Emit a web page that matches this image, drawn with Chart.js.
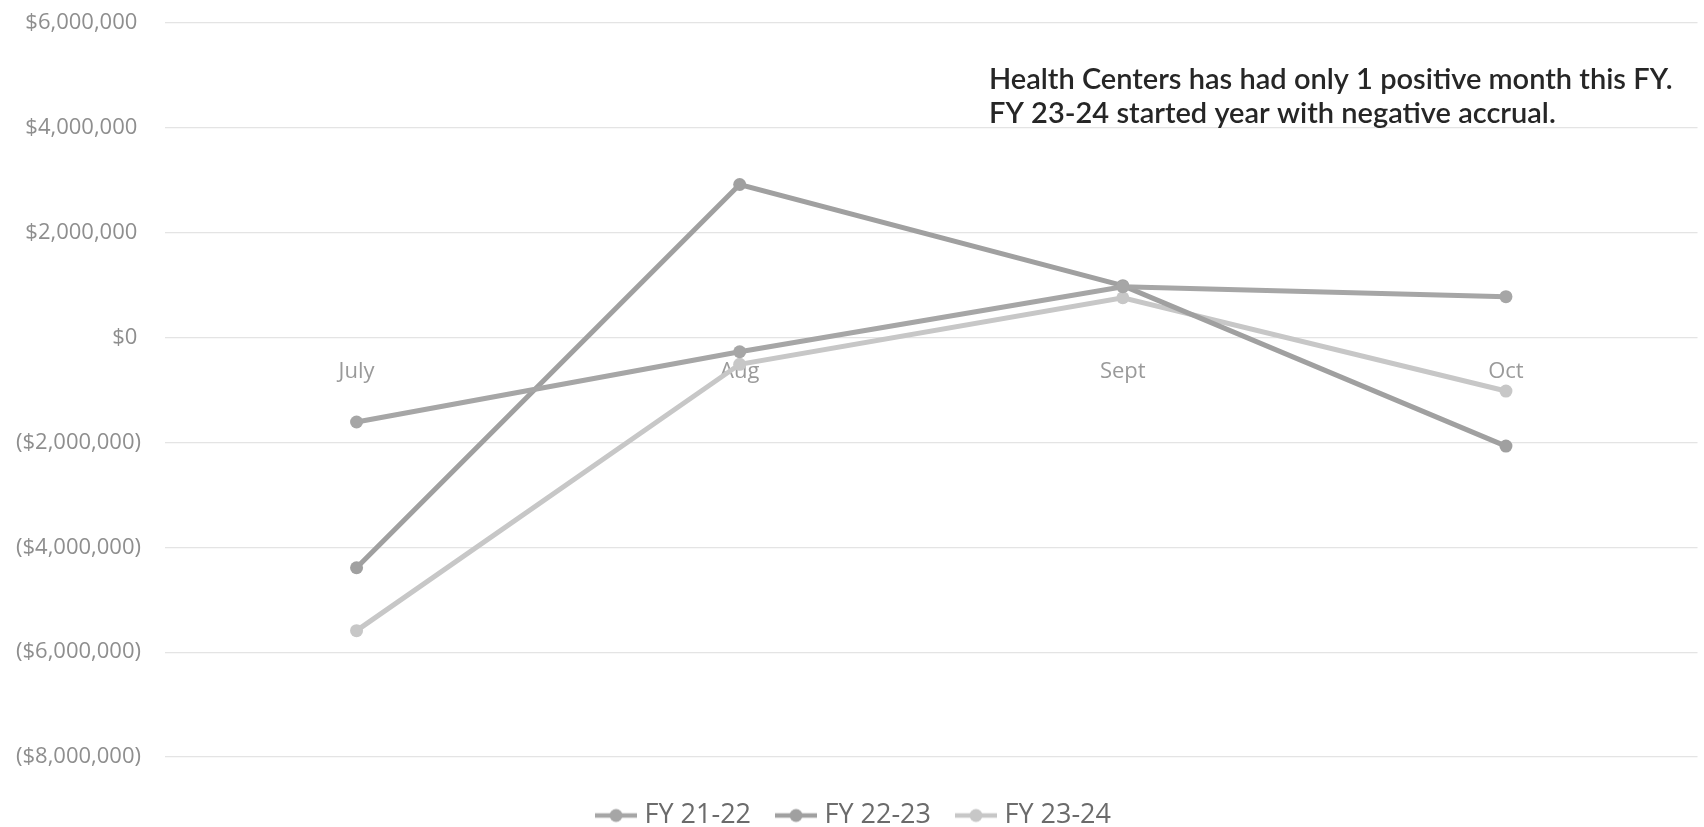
<!DOCTYPE html>
<html>
<head>
<meta charset="utf-8">
<script src="https://cdn.jsdelivr.net/npm/chart.js@4/dist/chart.umd.min.js"></script>
<style>
  html, body { margin: 0; padding: 0; background: #fff; overflow: hidden; }
  #wrap { width: 1704px; height: 827px; position: relative; }
</style>
</head>
<body>
<div id="wrap"><canvas id="c"></canvas></div>
<script>
// Monthly accrual by fiscal year
const months = ['July', 'Aug', 'Sept', 'Oct'];
const fy2122 = [-1610000, -270000, 970000, 780000];
const fy2223 = [-4390000, 2920000, 990000, -2070000];
const fy2324 = [-5590000, -510000, 760000, -1020000];
const seriesNames = ['FY 21-22', 'FY 22-23', 'FY 23-24'];
const seriesColors = ['#a6a6a6', '#a0a0a0', '#c7c7c7'];
const yMin = -8000000, yMax = 6000000, yStep = 2000000;
const noteLines = [
  'Health Centers has had only 1 positive month this FY.',
  'FY 23-24 started year with negative accrual.'
];

// Legend swatch: short line with a dot in the middle
function swatch(color) {
  const cv = document.createElement('canvas');
  cv.width = 42; cv.height = 16;
  const g = cv.getContext('2d');
  g.strokeStyle = color; g.lineWidth = 4.5; g.lineCap = 'butt';
  g.beginPath(); g.moveTo(0, 8); g.lineTo(42, 8); g.stroke();
  g.fillStyle = color;
  g.beginPath(); g.arc(21, 8, 6.5, 0, Math.PI * 2); g.fill();
  return cv;
}

function money(v) {
  const s = '$' + Math.abs(v).toLocaleString('en-US');
  if (v < 0) return '(' + s + ')';
  return s + '\u2009';
}

const noteText = {
  id: 'noteText',
  afterDraw(chart) {
    const ctx = chart.ctx;
    ctx.save();
    ctx.font = '600 29px Lato';
    ctx.fillStyle = '#262626';
    ctx.textBaseline = 'middle';
    ctx.textAlign = 'left';
    ctx.fillText(noteLines[0], 989, 80);
    ctx.fillText(noteLines[1], 989, 114);
    ctx.restore();
  }
};

const seriesData = [fy2122, fy2223, fy2324];
const datasets = seriesNames.map((name, i) => ({
  label: name,
  data: seriesData[i],
  borderColor: seriesColors[i],
  backgroundColor: seriesColors[i],
  pointBackgroundColor: seriesColors[i],
  pointBorderColor: seriesColors[i],
  pointStyle: 'circle',
  borderWidth: 5,
  pointRadius: 6.5,
  pointBorderWidth: 0,
  tension: 0,
  fill: false
}));

new Chart(document.getElementById('c'), {
  type: 'line',
  data: { labels: months, datasets },
  plugins: [noteText],
  options: {
    responsive: true,
    maintainAspectRatio: false,
    animation: false,
    layout: { padding: { top: 23, right: 0, bottom: -12, left: 8 } },
    plugins: {
      tooltip: { enabled: false },
      legend: {
        position: 'bottom',
        title: { display: true, text: '', font: { size: 10, lineHeight: 1 }, padding: { top: 5, bottom: 0 } },
        labels: {
          usePointStyle: true,
          pointStyleWidth: 30,
          padding: 30,
          color: '#6b6b6b',
          font: { family: 'Open Sans', size: 27 },
          generateLabels(chart) {
            return chart.data.datasets.map((ds, i) => ({
              text: ds.label,
              fillStyle: ds.borderColor,
              strokeStyle: ds.borderColor,
              fontColor: '#6b6b6b',
              lineWidth: 0,
              pointStyle: swatch(ds.borderColor),
              datasetIndex: i,
              hidden: false
            }));
          }
        }
      }
    },
    scales: {
      x: {
        position: { y: 0 },
        offset: true,
        grid: { display: false, drawTicks: false },
        border: { display: false },
        ticks: {
          padding: 21,
          color: '#9a9a9a',
          font: { family: 'Open Sans', size: 22 }
        }
      },
      y: {
        min: yMin,
        max: yMax,
        afterFit(scale) {
          scale.width = 157;
          scale.paddingTop = 0;
          scale.paddingBottom = 0;
        },
        grid: { color: '#e4e4e4', lineWidth: 1.2, drawTicks: false },
        border: { display: false },
        ticks: {
          stepSize: yStep,
          padding: 24,
          color: '#8e8e8e',
          font: { family: 'Open Sans', size: 22 },
          callback: (v) => money(v)
        }
      }
    }
  }
});
</script>
</body>
</html>
